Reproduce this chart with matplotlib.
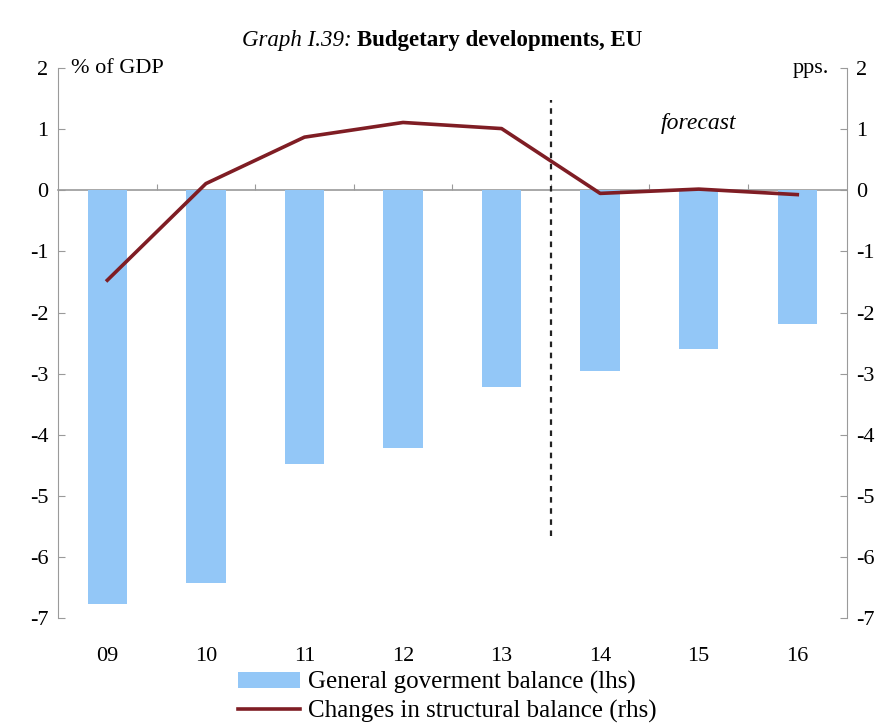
import matplotlib
matplotlib.use("Agg")
import matplotlib.pyplot as plt
import numpy as np

plt.rcParams['font.family'] = ['Liberation Serif', 'DejaVu Serif']
plt.rcParams['axes.unicode_minus'] = False

# data
years = ['09', '10', '11', '12', '13', '14', '15', '16']
gov_balance = [-6.76, -6.43, -4.48, -4.22, -3.21, -2.95, -2.6, -2.19]
structural_change = [-1.47, 0.11, 0.87, 1.11, 1.01, -0.05, 0.02, -0.07]
forecast_start = 4.5

bar_color = '#93c7f7'
line_color = '#7f1d24'
axis_gray = '#9a9a9a'

fig = plt.figure(figsize=(8.93, 7.24), dpi=100)
ax = fig.add_axes([0.065, 0.146, 0.883, 0.760])
x = np.arange(len(years))

ax.bar(x, gov_balance, width=0.4, color=bar_color, zorder=2,
       label='General goverment balance (lhs)')
ax.set_ylim(-7, 2)
ax.set_xlim(-0.5, len(years) - 0.5)
ax.set_yticks(range(-7, 3))

ax2 = ax.twinx()
ax2.plot(x, structural_change, color=line_color, lw=2.6, zorder=4,
         label='Changes in structural balance (rhs)')
ax2.set_ylim(-7, 2)
ax2.set_yticks(range(-7, 3))

for a in (ax, ax2):
    for s in ('top', 'bottom'):
        a.spines[s].set_visible(False)
    a.spines['left'].set_color(axis_gray)
    a.spines['right'].set_color(axis_gray)
    a.tick_params(axis='y', direction='in', length=5, color=axis_gray,
                  labelsize=16, pad=7)
ax.spines['right'].set_visible(False)
ax2.spines['left'].set_visible(False)

# category labels at the bottom, no tick marks
ax.set_xticks(x)
ax.set_xticklabels(years)
ax.tick_params(axis='x', length=0, labelsize=16, pad=21)

# zero line with small ticks between categories
zero_axis = ax.secondary_xaxis(7 / 9)
for s in zero_axis.spines.values():
    s.set_color(axis_gray)
    s.set_linewidth(1.2)
zero_axis.set_xticks(np.arange(0.5, len(years) - 1, 1))
zero_axis.tick_params(axis='x', direction='out', length=4, color=axis_gray,
                      labelbottom=False, labeltop=False)

# forecast marker
ax2.vlines(forecast_start, -5.65, 1.47, colors='#222222', linestyles=(0, (2.5, 2.5)),
           lw=1.6, zorder=3)
ax2.text(6.0, 1.1, 'forecast', style='italic', fontsize=17, ha='center', va='center')

ax.text(0.016, 1.0, '% of GDP', transform=ax.transAxes, fontsize=16,
        ha='left', va='center')
ax.text(0.978, 1.0, 'pps.', transform=ax.transAxes, fontsize=16,
        ha='right', va='center')

fig.text(0.400, 0.937, 'Graph I.39: ', style='italic', fontsize=16.5, ha='right',
         va='baseline')
fig.text(0.400, 0.937, 'Budgetary developments, EU', weight='bold', fontsize=16.5,
         ha='left', va='baseline')

h1, l1 = ax.get_legend_handles_labels()
h2, l2 = ax2.get_legend_handles_labels()
fig.legend(h1 + h2, l1 + l2, loc='upper left', bbox_to_anchor=(0.266, 0.073),
           frameon=False, fontsize=18, handlelength=2.5, handletextpad=0.3,
           labelspacing=0.22, borderaxespad=0, borderpad=0, handleheight=0.6)

fig.savefig('out.png', dpi=100)
